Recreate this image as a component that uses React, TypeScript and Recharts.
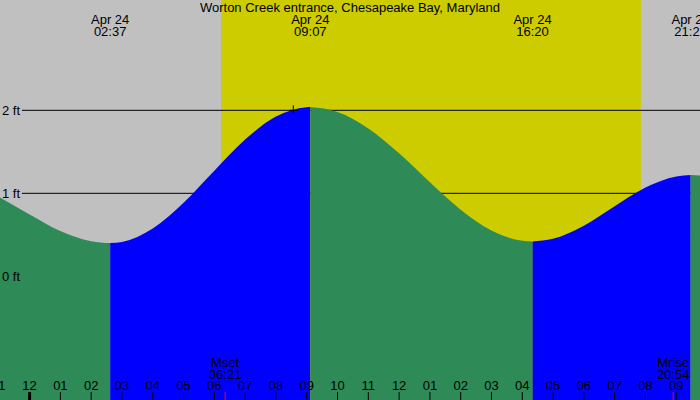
import React from 'react';
import { ComposedChart, Area, XAxis, YAxis, ReferenceArea, ReferenceLine, ReferenceDot } from 'recharts';

// ---- data (hours since Apr 24 00:00, tide level in ft) ----
const TITLE = 'Worton Creek entrance, Chesapeake Bay, Maryland';
const times = [-0.961, 0, 1, 2, 2.617, 3, 4, 5, 6, 7, 8, 9, 9.117, 10, 11, 12, 13, 14, 15, 16, 16.333, 17, 18, 19, 20, 21, 21.467, 21.771];
const tide = [0.95, 0.746, 0.546, 0.423, 0.4, 0.414, 0.576, 0.886, 1.272, 1.647, 1.924, 2.038, 2.04, 1.981, 1.782, 1.482, 1.134, 0.803, 0.553, 0.428, 0.42, 0.453, 0.61, 0.844, 1.069, 1.204, 1.22, 1.215];

const extremeTimes = [2.617, 9.117, 16.333, 21.467];
const extremeDates = ['Apr 24', 'Apr 24', 'Apr 24', 'Apr 24'];
const extremeClock = ['02:37', '09:07', '16:20', '21:28'];

const sunrise = 6.22;
const sunset = 19.85;

const hourTicks = [-1, 0, 1, 2, 3, 4, 5, 6, 7, 8, 9, 10, 11, 12, 13, 14, 15, 16, 17, 18, 19, 20, 21];
const hourLabels = ['11', '12', '01', '02', '03', '04', '05', '06', '07', '08', '09', '10', '11', '12', '01', '02', '03', '04', '05', '06', '07', '08', '09'];

const moonTimes = [6.35, 20.9];
const moonNames = ['Mset', 'Mrise'];
const moonClock = ['06:21', '20:54'];

const levelTicks = [0, 1, 2];
const levelLabels = ['0 ft', '1 ft', '2 ft'];
const gridLevels = [1, 2];

const nowMarker = { t: 8.563, v: 2.0 };

const segKeys = ['s0', 's1', 's2', 's3', 's4'];
const segColors = ['#2e8b57', '#0000ff', '#2e8b57', '#0000ff', '#2e8b57'];

// ---- layout constants ----
const X_DOMAIN: [number, number] = [-0.961, 21.771];
const Y_DOMAIN: [number, number] = [-1.49, 3.329];
const GRID_START = -0.247;
const FONT = 'Liberation Sans';
const FS = 13;

const segBounds = [times[0], ...extremeTimes, times[times.length - 1]];
const data = times.map((t, i) => {
  const row: Record<string, number | null> = { t };
  segKeys.forEach((k, s) => {
    row[k] = t >= segBounds[s] - 1e-9 && t <= segBounds[s + 1] + 1e-9 ? tide[i] : null;
  });
  return row;
});

const txt = { fontFamily: FONT, fontSize: FS, fill: '#000' } as const;

const XTick = (props: any) => {
  const { x, payload } = props;
  const v = payload.value;
  const mi = moonTimes.indexOf(v);
  if (mi >= 0) {
    return (
      <g>
        <line x1={x} x2={x} y1={392} y2={400} stroke="#ff0000" strokeWidth={1} />
        <text x={x} y={366.7} textAnchor="middle" {...txt}>{moonNames[mi]}</text>
        <text x={x} y={378.5} textAnchor="middle" {...txt}>{moonClock[mi]}</text>
      </g>
    );
  }
  const hi = hourTicks.indexOf(v);
  if (hi < 0) return null;
  return (
    <g>
      <line x1={x} x2={x} y1={392} y2={400} stroke="#000" strokeWidth={v === 0 ? 3 : 1} />
      <text x={x} y={390} textAnchor="middle" {...txt}>{hourLabels[hi]}</text>
    </g>
  );
};

const YTick = (props: any) => {
  const { y, payload } = props;
  const i = levelTicks.indexOf(payload.value);
  if (i < 0) return null;
  return (
    <text x={2} y={y + 4.5} textAnchor="start" {...txt}>{levelLabels[i]}</text>
  );
};

const makeExtremeShape = (i: number) => (props: any) => {
  const { cx } = props;
  return (
    <g>
      <text x={cx} y={24} textAnchor="middle" {...txt}>{extremeDates[i]}</text>
      <text x={cx} y={36} textAnchor="middle" {...txt}>{extremeClock[i]}</text>
    </g>
  );
};

const CrossShape = (props: any) => {
  const { cx, cy } = props;
  return (
    <g>
      <line x1={cx - 4} x2={cx + 4} y1={cy} y2={cy} stroke="#000" strokeWidth={1} />
      <line x1={cx} x2={cx} y1={cy - 5} y2={cy + 4} stroke="#000" strokeWidth={1} />
    </g>
  );
};

export default function App() {
  return (
    <div style={{ position: 'absolute', left: 0, top: 0, width: 700, height: 400, background: '#c0c0c0' }}>
      <ComposedChart width={700} height={400} data={data} margin={{ top: 0, right: 0, bottom: 0, left: 0 }}>
        <XAxis
          type="number"
          dataKey="t"
          domain={X_DOMAIN}
          allowDataOverflow
          ticks={[...hourTicks, ...moonTimes]}
          interval={0}
          mirror
          height={30}
          axisLine={false}
          tickLine={false}
          tick={<XTick />}
        />
        <YAxis
          type="number"
          domain={Y_DOMAIN}
          allowDataOverflow
          ticks={levelTicks}
          interval={0}
          mirror
          width={30}
          axisLine={false}
          tickLine={false}
          tick={<YTick />}
        />
        <ReferenceArea x1={sunrise} x2={sunset} fill="#cccc00" fillOpacity={1} stroke="none" zIndex={-60} />
        {gridLevels.map((lv) => (
          <ReferenceLine
            key={lv}
            segment={[{ x: GRID_START, y: lv }, { x: X_DOMAIN[1], y: lv }]}
            stroke="#000"
            strokeWidth={1}
            zIndex={50}
          />
        ))}
        {segKeys.map((k, s) => (
          <Area
            key={k}
            dataKey={k}
            type="monotone"
            stroke="none"
            fill={segColors[s]}
            fillOpacity={1}
            baseValue="dataMin"
            connectNulls={false}
            dot={false}
            activeDot={false}
            isAnimationActive={false}
          />
        ))}
        {extremeTimes.map((t, i) => (
          <ReferenceDot key={'e' + i} x={t} y={Y_DOMAIN[1]} r={0} ifOverflow="visible" shape={makeExtremeShape(i)} />
        ))}
        <ReferenceDot x={nowMarker.t} y={nowMarker.v} r={0} ifOverflow="visible" shape={CrossShape} zIndex={700} />
      </ComposedChart>
      <div
        style={{
          position: 'absolute',
          left: 0,
          top: 0,
          width: 700,
          textAlign: 'center',
          fontFamily: FONT,
          fontSize: FS,
          lineHeight: '15px',
          color: '#000',
        }}
      >
        {TITLE}
      </div>
    </div>
  );
}
